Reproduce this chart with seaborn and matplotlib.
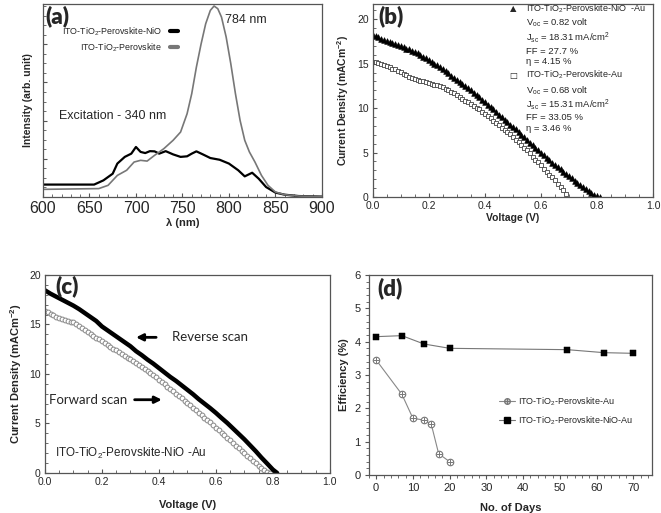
import numpy as np
import pandas as pd
import matplotlib
matplotlib.use("Agg")
import matplotlib.pyplot as plt
from matplotlib.legend_handler import HandlerTuple
import seaborn as sns

# (a) photoluminescence spectra
pl_nio_wl = [600, 655, 665, 675, 680, 688, 695, 700, 705, 710, 715, 720, 725, 732, 740, 748, 755,
             760, 765, 772, 780, 790, 800, 810, 817, 825, 832, 840, 850, 860, 875, 900]
pl_nio_int = [0.065, 0.065, 0.087, 0.122, 0.175, 0.21, 0.227, 0.262, 0.236, 0.23, 0.24, 0.239, 0.227,
              0.24, 0.223, 0.21, 0.213, 0.227, 0.239, 0.223, 0.204, 0.195, 0.175, 0.14, 0.108, 0.127,
              0.096, 0.052, 0.023, 0.012, 0.005, 0.002]
pl_ref_wl = [600, 660, 670, 680, 690, 698, 705, 712, 720, 730, 740, 748, 755, 760, 765, 770, 775, 780,
             784, 788, 792, 797, 802, 807, 812, 817, 822, 828, 835, 842, 850, 860, 875, 900]
pl_ref_int = [0.04, 0.044, 0.061, 0.113, 0.14, 0.183, 0.192, 0.188, 0.218, 0.253, 0.297, 0.34, 0.436,
              0.541, 0.68, 0.80, 0.907, 0.977, 1.0, 0.986, 0.942, 0.838, 0.698, 0.541, 0.401, 0.297,
              0.236, 0.183, 0.113, 0.061, 0.026, 0.012, 0.005, 0.002]

# (b) J-V curves
jv_nio_v = [round(0.01 * i, 2) for i in range(82)]
jv_nio_j = [18.2, 18.1, 17.95, 17.8, 17.7, 17.55, 17.45, 17.3, 17.2, 17.1, 17.0, 16.85, 16.7, 16.6,
            16.45, 16.3, 16.15, 15.95, 15.8, 15.6, 15.4, 15.2, 15.0, 14.8, 14.6, 14.4, 14.15, 13.9,
            13.65, 13.4, 13.15, 12.9, 12.7, 12.45, 12.25, 12.0, 11.75, 11.5, 11.25, 10.95, 10.7, 10.4,
            10.1, 9.85, 9.55, 9.27, 9.0, 8.7, 8.45, 8.15, 7.88, 7.6, 7.3, 7.0, 6.7, 6.4, 6.1, 5.8, 5.5,
            5.25, 4.95, 4.7, 4.4, 4.15, 3.85, 3.6, 3.35, 3.1, 2.85, 2.6, 2.35, 2.1, 1.85, 1.6, 1.35,
            1.1, 0.9, 0.68, 0.45, 0.25, 0.1, 0.0]
jv_au_v = [round(0.01 * i, 2) for i in range(70)]
jv_au_j = [15.2, 15.15, 15.05, 14.95, 14.85, 14.75, 14.6, 14.45, 14.35, 14.2, 14.05, 13.85, 13.7,
           13.55, 13.4, 13.3, 13.2, 13.1, 13.0, 12.95, 12.85, 12.75, 12.65, 12.55, 12.45, 12.35, 12.2,
           12.0, 11.85, 11.65, 11.45, 11.25, 11.05, 10.85, 10.65, 10.45, 10.25, 10.05, 9.85, 9.6, 9.38,
           9.1, 8.85, 8.6, 8.35, 8.07, 7.8, 7.55, 7.3, 7.05, 6.75, 6.45, 6.15, 5.85, 5.55, 5.25, 4.9,
           4.55, 4.2, 3.9, 3.56, 3.2, 2.85, 2.5, 2.2, 1.88, 1.5, 1.15, 0.75, 0.3]

# (c) hysteresis
rev_v = [0.0, 0.02, 0.04, 0.06, 0.08, 0.10, 0.12, 0.14, 0.16, 0.18, 0.20, 0.22, 0.24, 0.26, 0.28,
         0.30, 0.32, 0.34, 0.36, 0.38, 0.40, 0.42, 0.44, 0.46, 0.48, 0.50, 0.52, 0.54, 0.56, 0.58,
         0.60, 0.62, 0.64, 0.66, 0.68, 0.70, 0.72, 0.74, 0.76, 0.78, 0.80, 0.815]
rev_j = [18.45, 18.1, 17.8, 17.5, 17.2, 16.9, 16.55, 16.15, 15.75, 15.35, 14.8, 14.4, 14.0, 13.6,
         13.2, 12.8, 12.3, 11.9, 11.45, 11.05, 10.6, 10.15, 9.7, 9.3, 8.85, 8.4, 7.95, 7.45, 7.0,
         6.55, 6.07, 5.55, 5.05, 4.5, 3.95, 3.4, 2.8, 2.2, 1.55, 0.95, 0.34, 0.0]
fwd_v = [round(0.01 * i, 2) for i in range(80)]
fwd_j = [16.36, 16.25, 16.1, 15.95, 15.8, 15.7, 15.6, 15.5, 15.4, 15.3, 15.2, 15.0, 14.8, 14.6,
         14.4, 14.25, 14.05, 13.85, 13.65, 13.5, 13.3, 13.1, 12.95, 12.75, 12.55, 12.4, 12.2, 12.05,
         11.85, 11.65, 11.5, 11.3, 11.1, 10.9, 10.7, 10.5, 10.3, 10.1, 9.9, 9.65, 9.44, 9.2, 8.95,
         8.7, 8.5, 8.25, 8.0, 7.8, 7.55, 7.3, 7.1, 6.85, 6.6, 6.35, 6.1, 5.85, 5.6, 5.35, 5.1, 4.8,
         4.55, 4.3, 4.05, 3.8, 3.55, 3.3, 3.0, 2.75, 2.5, 2.25, 2.0, 1.75, 1.5, 1.25, 1.0, 0.75,
         0.55, 0.35, 0.15, 0.0]

# (d) stability
days_au = [0, 7, 10, 13, 15, 17, 20]
eff_au = [3.45, 2.42, 1.70, 1.65, 1.52, 0.64, 0.40]
days_nio = [0, 7, 13, 20, 52, 62, 70]
eff_nio = [4.15, 4.18, 3.93, 3.80, 3.76, 3.67, 3.65]

sns.set_style("ticks")
plt.rcParams['font.family'] = ['Liberation Sans', 'DejaVu Sans']
plt.rcParams['mathtext.fontset'] = 'custom'
plt.rcParams['mathtext.rm'] = 'Liberation Sans'
plt.rcParams['mathtext.it'] = 'Liberation Sans'
plt.rcParams['mathtext.bf'] = 'Liberation Sans:bold'
plt.rcParams['axes.linewidth'] = 0.9
plt.rcParams['axes.edgecolor'] = '#555555'

fig = plt.figure(figsize=(6.61, 5.13), dpi=100)
ax_a = fig.add_axes([0.065, 0.616, 0.422, 0.376])
ax_b = fig.add_axes([0.564, 0.616, 0.424, 0.376])
ax_c = fig.add_axes([0.068, 0.078, 0.431, 0.386])
ax_d = fig.add_axes([0.558, 0.074, 0.428, 0.390])


def style_ticks(ax, size, direction='in'):
    ax.tick_params(which='both', direction=direction, labelsize=size, color='#555555', pad=3)
    ax.tick_params(which='major', length=3)
    ax.tick_params(which='minor', length=2)
    ax.minorticks_on()


lab_font = "Lato"

# ---- (a)
sns.lineplot(x=pl_nio_wl, y=pl_nio_int, ax=ax_a, color='black', lw=1.6, sort=False,
             label='ITO-TiO$_2$-Perovskite-NiO')
sns.lineplot(x=pl_ref_wl, y=pl_ref_int, ax=ax_a, color='#777777', lw=1.2, sort=False,
             label='ITO-TiO$_2$-Perovskite')
ax_a.set_xlim(600, 900)
ax_a.set_ylim(0, 1.01)
ax_a.set_xticks([600, 650, 700, 750, 800, 850, 900])
ax_a.set_yticks([0.2, 0.4, 0.6, 0.8])
style_ticks(ax_a, 11.5)
ax_a.set_yticklabels([])
ax_a.set_xlabel('λ (nm)', fontsize=8, fontweight='bold', labelpad=1)
ax_a.set_ylabel('Intensity (arb. unit)', fontsize=7.5, fontweight='bold')
leg = ax_a.legend(loc='upper left', bbox_to_anchor=(0.04, 0.93), frameon=False, fontsize=6.4,
                  markerfirst=False, handlelength=0.9, handletextpad=0.9, labelspacing=0.35)
for h in leg.get_lines():
    h.set_linewidth(3)
ax_a.text(0.01, 0.995, '(a)', transform=ax_a.transAxes, fontsize=16, fontweight='heavy',
          family=lab_font, va='top')
ax_a.text(796, 0.91, '784 nm', fontsize=9)
ax_a.text(617, 0.41, 'Excitation - 340 nm', fontsize=9)

# ---- (b)
sns.scatterplot(x=jv_nio_v, y=jv_nio_j, ax=ax_b, marker='^', color='black', s=17,
                edgecolor='black', linewidth=0.4)
sns.scatterplot(x=jv_au_v, y=jv_au_j, ax=ax_b, marker='s', s=12, facecolor='white',
                edgecolor='#444444', linewidth=0.6)
ax_b.set_xlim(0, 1.0)
ax_b.set_ylim(0, 21.7)
ax_b.set_yticks([0, 5, 10, 15, 20])
style_ticks(ax_b, 7.5)
ax_b.set_xlabel('Voltage (V)', fontsize=7.5, fontweight='bold', labelpad=1)
ax_b.set_ylabel('Current Density (mACm$^{\\mathbf{-2}}$)', fontsize=7.5, fontweight='bold')
ax_b.text(0.02, 0.995, '(b)', transform=ax_b.transAxes, fontsize=16, fontweight='heavy',
          family=lab_font, va='top')
b_lines = [
    (0.50, 21.2, '▲', 'ITO-TiO$_2$-Perovskite-NiO  -Au'),
    (None, 19.55, None, 'V$_{oc}$ = 0.82 volt'),
    (None, 17.9, None, 'J$_{sc}$ = 18.31 mA/cm$^2$'),
    (None, 16.4, None, 'FF = 27.7 %'),
    (None, 15.2, None, 'η = 4.15 %'),
    (0.50, 13.7, '□', 'ITO-TiO$_2$-Perovskite-Au'),
    (None, 12.0, None, 'V$_{oc}$ = 0.68 volt'),
    (None, 10.45, None, 'J$_{sc}$ = 15.31 mA/cm$^2$'),
    (None, 8.9, None, 'FF = 33.05 %'),
    (None, 7.75, None, 'η = 3.46 %'),
]
for mx, y, sym, txt in b_lines:
    if sym:
        ax_b.text(mx, y, sym, fontsize=6, va='center', ha='center', family='DejaVu Sans')
        ax_b.text(0.545, y, txt, fontsize=6.5, va='center')
    else:
        ax_b.text(0.548, y, txt, fontsize=6.8, va='center')

# ---- (c)
sns.scatterplot(x=fwd_v, y=fwd_j, ax=ax_c, marker='o', s=12, facecolor='white',
                edgecolor='#888888', linewidth=0.7)
sns.lineplot(x=rev_v, y=rev_j, ax=ax_c, color='black', lw=3.2, sort=False)
ax_c.set_xlim(0, 1.0)
ax_c.set_ylim(0, 20)
ax_c.set_yticks([0, 5, 10, 15, 20])
style_ticks(ax_c, 7.5)
ax_c.set_xlabel('Voltage (V)', fontsize=8, fontweight='bold', labelpad=9)
ax_c.set_ylabel('Current Density (mACm$^{\\mathbf{-2}}$)', fontsize=8, fontweight='bold')
ax_c.text(0.035, 1.0, '(c)', transform=ax_c.transAxes, fontsize=16, fontweight='heavy',
          family=lab_font, va='top')
ax_c.annotate('', xy=(0.31, 13.7), xytext=(0.40, 13.7),
              arrowprops=dict(arrowstyle='-|>', color='black', lw=2, mutation_scale=10))
ax_c.text(0.445, 13.7, 'Reverse scan', fontsize=9.5, family=lab_font, va='center')
ax_c.annotate('', xy=(0.42, 7.4), xytext=(0.305, 7.4),
              arrowprops=dict(arrowstyle='-|>', color='black', lw=2, mutation_scale=10))
ax_c.text(0.014, 7.4, 'Forward scan', fontsize=9.5, family=lab_font, va='center')
ax_c.text(0.036, 2.0, 'ITO-TiO$_2$-Perovskite-NiO -Au', fontsize=8.4, va='center')

# ---- (d)
df_au = pd.DataFrame({'days': days_au, 'eff': eff_au})
df_nio = pd.DataFrame({'days': days_nio, 'eff': eff_nio})
sns.lineplot(data=df_au, x='days', y='eff', ax=ax_d, color='#888888', lw=0.8)
sns.lineplot(data=df_nio, x='days', y='eff', ax=ax_d, color='#777777', lw=0.8)
sns.scatterplot(data=df_au, x='days', y='eff', ax=ax_d, marker='o', s=22, facecolor='white',
                edgecolor='#777777', linewidth=0.8, zorder=3)
sns.scatterplot(data=df_au, x='days', y='eff', ax=ax_d, marker='+', s=20, color='#777777',
                linewidth=0.7, zorder=4)
sns.scatterplot(data=df_nio, x='days', y='eff', ax=ax_d, marker='s', s=20, color='black',
                edgecolor='black', zorder=3)
ax_d.set_xlim(-2, 75)
ax_d.set_ylim(0, 6)
ax_d.set_xticks([0, 10, 20, 30, 40, 50, 60, 70])
style_ticks(ax_d, 8, direction='out')
ax_d.set_xlabel('No. of Days', fontsize=8, fontweight='bold', labelpad=7)
ax_d.set_ylabel('Efficiency (%)', fontsize=8, fontweight='bold')
ax_d.text(0.03, 0.99, '(d)', transform=ax_d.transAxes, fontsize=16, fontweight='heavy',
          family=lab_font, va='top')
h1, = ax_d.plot([], [], color='#888888', lw=0.8, marker='o', mfc='white', mec='#777777', ms=4)
h1b, = ax_d.plot([], [], ls='none', marker='+', color='#777777', ms=4)
h2, = ax_d.plot([], [], color='#777777', lw=0.8, marker='s', mfc='black', mec='black', ms=4)
ax_d.legend([(h1, h1b), h2], ['ITO-TiO$_2$-Perovskite-Au', 'ITO-TiO$_2$-Perovskite-NiO-Au'],
            handler_map={tuple: HandlerTuple(ndivide=1)}, loc='center left',
            bbox_to_anchor=(0.43, 0.32), frameon=False, fontsize=6.5, handlelength=1.8,
            handletextpad=0.3, labelspacing=0.7)

fig.savefig('out.png', dpi=100)
